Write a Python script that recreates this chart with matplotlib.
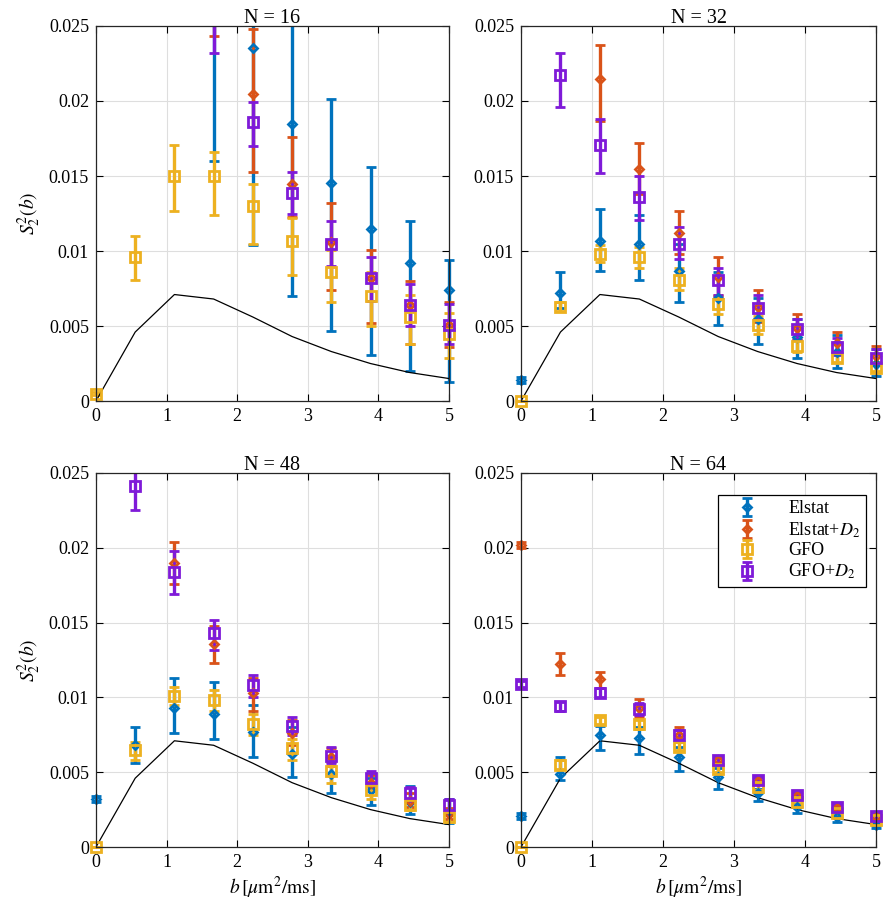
import numpy as np
import matplotlib
matplotlib.use('Agg')
import matplotlib.pyplot as plt
from matplotlib.transforms import Bbox, TransformedBbox

plt.rcParams['font.family'] = ['Liberation Serif', 'DejaVu Serif']
plt.rcParams['mathtext.fontset'] = 'stix'

nan = np.nan

b = [0, 0.5556, 1.1111, 1.6667, 2.2222, 2.7778, 3.3333, 3.8889, 4.4444, 5.0]
theory = [0, 0.0046, 0.0071, 0.0068, 0.0056, 0.0043, 0.0033, 0.0025, 0.0019, 0.0015]

series_names = ['Elstat', 'Elstat+$D_2$', 'GFO', 'GFO+$D_2$']
colors = ['#0072BD', '#D95319', '#EDB120', '#7F1AD8']
markers = ['D', 'D', 's', 's']
panel_titles = ['N = 16', 'N = 32', 'N = 48', 'N = 64']

# N = 16
n16_elstat    = [nan, nan, nan, 0.030, 0.0235, 0.01845, 0.01455, 0.0115, 0.0092, 0.0074]
n16_elstat_lo = [nan, nan, nan, 0.0160, 0.0104, 0.0070, 0.0047, 0.0031, 0.0020, 0.0013]
n16_elstat_hi = [nan, nan, nan, 0.045, 0.036, 0.030, 0.0201, 0.0156, 0.0120, 0.0094]
n16_eld2    = [nan, nan, nan, 0.032, 0.02045, 0.0145, 0.0106, 0.0082, 0.0064, 0.0051]
n16_eld2_lo = [nan, nan, nan, 0.0243, 0.0153, 0.0123, 0.0074, 0.0052, 0.0038, 0.0036]
n16_eld2_hi = [nan, nan, nan, 0.040, 0.0248, 0.0176, 0.0132, 0.0101, 0.0080, 0.0066]
n16_gfo    = [0.0005, 0.0096, 0.0150, 0.0150, 0.0130, 0.0107, 0.0086, 0.0070, 0.0056, 0.0045]
n16_gfo_lo = [0.0004, 0.0081, 0.0127, 0.0124, 0.0105, 0.0084, 0.0066, 0.0050, 0.0038, 0.0029]
n16_gfo_hi = [0.0006, 0.0110, 0.0171, 0.0166, 0.0145, 0.0122, 0.0101, 0.0086, 0.0071, 0.0059]
n16_gfod2    = [nan, nan, nan, 0.030, 0.0186, 0.0139, 0.0105, 0.0082, 0.0064, 0.0051]
n16_gfod2_lo = [nan, nan, nan, 0.0232, 0.0170, 0.0125, 0.0090, 0.0067, 0.0050, 0.0038]
n16_gfod2_hi = [nan, nan, nan, 0.037, 0.0199, 0.0153, 0.0120, 0.0096, 0.0078, 0.0065]

# N = 32
n32_elstat    = [0.0014, 0.0072, 0.0107, 0.0105, 0.0087, 0.0069, 0.0055, 0.0043, 0.0033, 0.0025]
n32_elstat_lo = [0.0012, 0.0062, 0.0087, 0.0081, 0.0066, 0.0051, 0.0038, 0.0029, 0.0022, 0.0017]
n32_elstat_hi = [0.0016, 0.0086, 0.0128, 0.0124, 0.0105, 0.0086, 0.0069, 0.0055, 0.0044, 0.0035]
n32_eld2    = [nan, nan, 0.02145, 0.0155, 0.0112, 0.0083, 0.0063, 0.0049, 0.0039, 0.0030]
n32_eld2_lo = [nan, nan, 0.0187, 0.0138, 0.0098, 0.0070, 0.0053, 0.0041, 0.0032, 0.0025]
n32_eld2_hi = [nan, nan, 0.0237, 0.0172, 0.0127, 0.0096, 0.0074, 0.0058, 0.0046, 0.0037]
n32_gfo    = [0.0, 0.0063, 0.0098, 0.0096, 0.0081, 0.0065, 0.0051, 0.0037, 0.0029, 0.0022]
n32_gfo_lo = [0.0, 0.0060, 0.0093, 0.0089, 0.0074, 0.0058, 0.0045, 0.0033, 0.0026, 0.0020]
n32_gfo_hi = [0.0, 0.0066, 0.0104, 0.0103, 0.0089, 0.0071, 0.0057, 0.0042, 0.0032, 0.0026]
n32_gfod2    = [nan, 0.0217, 0.0171, 0.0136, 0.0105, 0.0081, 0.0062, 0.0048, 0.0036, 0.0029]
n32_gfod2_lo = [nan, 0.0196, 0.0152, 0.0121, 0.0095, 0.0071, 0.0055, 0.0041, 0.0031, 0.0024]
n32_gfod2_hi = [nan, 0.0232, 0.0188, 0.0150, 0.0116, 0.0089, 0.0071, 0.0055, 0.0042, 0.0035]

# N = 48
n48_elstat    = [0.0032, 0.0068, 0.0093, 0.0089, 0.0077, 0.0062, 0.0049, 0.0038, 0.0030, 0.0023]
n48_elstat_lo = [0.0030, 0.0056, 0.0076, 0.0072, 0.0060, 0.0047, 0.0036, 0.0028, 0.0022, 0.0016]
n48_elstat_hi = [0.0034, 0.0080, 0.0113, 0.0110, 0.0095, 0.0080, 0.0061, 0.0046, 0.0041, 0.0032]
n48_eld2    = [nan, nan, 0.0190, 0.0136, 0.0103, 0.0076, 0.0060, 0.0043, 0.0031, 0.0022]
n48_eld2_lo = [nan, nan, 0.0176, 0.0123, 0.0091, 0.0068, 0.0054, 0.0038, 0.0027, 0.0019]
n48_eld2_hi = [nan, nan, 0.0204, 0.0148, 0.0113, 0.0085, 0.0066, 0.0048, 0.0036, 0.0026]
n48_gfo    = [0.0, 0.0065, 0.0101, 0.0098, 0.0082, 0.0066, 0.0051, 0.0038, 0.0028, 0.0020]
n48_gfo_lo = [0.0, 0.0058, 0.0095, 0.0091, 0.0075, 0.0058, 0.0043, 0.0032, 0.0025, 0.0017]
n48_gfo_hi = [0.0, 0.0070, 0.0107, 0.0105, 0.0089, 0.0072, 0.0057, 0.0042, 0.0032, 0.0025]
n48_gfod2    = [nan, 0.0241, 0.0184, 0.0143, 0.0108, 0.0081, 0.0061, 0.0046, 0.0036, 0.0028]
n48_gfod2_lo = [nan, 0.0225, 0.0169, 0.0132, 0.0100, 0.0075, 0.0056, 0.0041, 0.0031, 0.0023]
n48_gfod2_hi = [nan, 0.0256, 0.0198, 0.0152, 0.0115, 0.0087, 0.0067, 0.0051, 0.0040, 0.0032]

# N = 64
n64_elstat    = [0.0021, 0.0049, 0.0075, 0.0073, 0.0060, 0.0047, 0.0036, 0.0027, 0.0020, 0.00145]
n64_elstat_lo = [0.0019, 0.0045, 0.0065, 0.0062, 0.0051, 0.0039, 0.0031, 0.0023, 0.0017, 0.0013]
n64_elstat_hi = [0.0023, 0.0060, 0.0081, 0.0080, 0.0067, 0.0053, 0.0039, 0.0029, 0.0022, 0.0016]
n64_eld2    = [0.0202, 0.01225, 0.0112, 0.0093, 0.0075, 0.0058, 0.0044, 0.0034, 0.0026, 0.0020]
n64_eld2_lo = [0.0200, 0.0115, 0.0106, 0.0087, 0.0070, 0.0055, 0.0042, 0.0032, 0.0024, 0.0018]
n64_eld2_hi = [0.0204, 0.0130, 0.0117, 0.0099, 0.0080, 0.0061, 0.0047, 0.0036, 0.0028, 0.0022]
n64_gfo    = [0.0, 0.0055, 0.0085, 0.0082, 0.0067, 0.0052, 0.0040, 0.0030, 0.0023, 0.0018]
n64_gfo_lo = [0.0, 0.0052, 0.0082, 0.0079, 0.0065, 0.0050, 0.0038, 0.0029, 0.0022, 0.0017]
n64_gfo_hi = [0.0, 0.0058, 0.0087, 0.0085, 0.0070, 0.0055, 0.0042, 0.0031, 0.0024, 0.0019]
n64_gfod2    = [0.0109, 0.0094, 0.0103, 0.0092, 0.0075, 0.0058, 0.0045, 0.0035, 0.0027, 0.0021]
n64_gfod2_lo = [0.0107, 0.0091, 0.0100, 0.0088, 0.0072, 0.0056, 0.0043, 0.0033, 0.0025, 0.0019]
n64_gfod2_hi = [0.0111, 0.0097, 0.0106, 0.0096, 0.0078, 0.0060, 0.0047, 0.0037, 0.0029, 0.0023]

panels = [
    [(n16_elstat, n16_elstat_lo, n16_elstat_hi), (n16_eld2, n16_eld2_lo, n16_eld2_hi),
     (n16_gfo, n16_gfo_lo, n16_gfo_hi), (n16_gfod2, n16_gfod2_lo, n16_gfod2_hi)],
    [(n32_elstat, n32_elstat_lo, n32_elstat_hi), (n32_eld2, n32_eld2_lo, n32_eld2_hi),
     (n32_gfo, n32_gfo_lo, n32_gfo_hi), (n32_gfod2, n32_gfod2_lo, n32_gfod2_hi)],
    [(n48_elstat, n48_elstat_lo, n48_elstat_hi), (n48_eld2, n48_eld2_lo, n48_eld2_hi),
     (n48_gfo, n48_gfo_lo, n48_gfo_hi), (n48_gfod2, n48_gfod2_lo, n48_gfod2_hi)],
    [(n64_elstat, n64_elstat_lo, n64_elstat_hi), (n64_eld2, n64_eld2_lo, n64_eld2_hi),
     (n64_gfo, n64_gfo_lo, n64_gfo_hi), (n64_gfod2, n64_gfod2_lo, n64_gfod2_hi)],
]

fig = plt.figure(figsize=(8.87, 9.15), dpi=100)
rects = [
    [0.1082, 0.5617, 0.3980, 0.4099],
    [0.5874, 0.5617, 0.4002, 0.4099],
    [0.1082, 0.0743, 0.3980, 0.4088],
    [0.5874, 0.0743, 0.4002, 0.4088],
]

for k, (rect, title, data) in enumerate(zip(rects, panel_titles, panels)):
    ax = fig.add_axes(rect)
    # clip box slightly wider than the axes so edge markers are not cut
    cbox = TransformedBbox(Bbox([[-0.03, -0.03], [1.03, 1.0]]), ax.transAxes)
    handles = []
    for (y, lo, hi), c, m, name in zip(data, colors, markers, series_names):
        y = np.array(y)
        yerr = [y - np.array(lo), np.array(hi) - y]
        eb = ax.errorbar(b, y, yerr=yerr, fmt=m, color=c, mfc='none', mec=c,
                         ms=6.5 if m == 's' else 4.5, mew=2.0,
                         elinewidth=2.4, capsize=3.6, capthick=2.4, label=name)
        eb[0].set_clip_box(cbox)
        for cl in eb[1]:
            cl.set_clip_box(cbox)
        for bl in eb[2]:
            bl.set_clip_box(cbox)
        handles.append(eb)
    ax.plot(b, theory, color='black', lw=0.9)

    ax.set_xlim(0, 5)
    ax.set_ylim(0, 0.025)
    ax.set_xticks([0, 1, 2, 3, 4, 5])
    ax.set_yticks([0, 0.005, 0.01, 0.015, 0.02, 0.025])
    ax.set_yticklabels(['0', '0.005', '0.01', '0.015', '0.02', '0.025'])
    ax.tick_params(direction='in', top=True, right=True, labelsize=13,
                   length=5, width=0.8, pad=5)
    ax.grid(True, color='#dedede', lw=0.8)
    ax.set_axisbelow(True)
    for sp in ax.spines.values():
        sp.set_linewidth(0.9)
        sp.set_color('#262626')
    ax.set_title(title, fontsize=14.5, pad=2)
    if k % 2 == 0:
        ax.set_ylabel('$S_2^2(b)$', fontsize=14, labelpad=4)
    if k >= 2:
        ax.set_xlabel(r'$b\,[\mu\mathrm{m}^2/\mathrm{ms}]$', fontsize=14, labelpad=3)
    if k == 3:
        leg = ax.legend(handles=handles, loc='upper right', fontsize=13,
                        fancybox=False, edgecolor='black', framealpha=1,
                        handlelength=2.6, handletextpad=1.0,
                        borderpad=0.3, labelspacing=0.15, borderaxespad=0,
                        bbox_to_anchor=(0.972, 0.941))
        leg.get_frame().set_linewidth(0.9)

fig.savefig('out.png', dpi=100)
